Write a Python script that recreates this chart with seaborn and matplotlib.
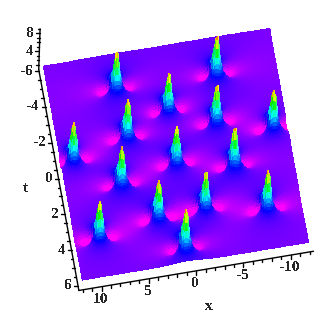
import numpy as np
import matplotlib
matplotlib.use("Agg")
import matplotlib.pyplot as plt
from matplotlib.colors import hsv_to_rgb
import seaborn as sns

# peak positions
peak_x = [4.90, 4.67, 10.64, -0.05, 0.12, 6.16, 2.99, 9.42, -5.64, -4.75, -10.5, -5.79, -2.02, -8.38, 0.78]
peak_t = [-4.21, -1.50, -0.74, -2.59, 0.35, 0.99, 3.17, 3.72, -4.11, -1.51, -0.72, 0.99, 3.06, 3.62, 5.04]

x_ticks = [10, 5, 0, -5, -10]
t_ticks = [-6, -4, -2, 0, 2, 4, 6]
z_ticks = [8, 4]

sns.set_theme(style="white")
plt.rcParams['font.family'] = ['Liberation Serif', 'DejaVu Serif']
plt.rcParams['font.weight'] = 'bold'
plt.rcParams['text.antialiased'] = False


def project(x, t, z):
    # view of the box on the page, in pixels
    px = 176 - 9.46 * np.asarray(x) + 3.25 * np.asarray(t) + 0.15 * (np.asarray(z) - 1)
    py = 154.5 + 1.58 * np.asarray(x) + 17.9 * np.asarray(t) - 4.5 * (np.asarray(z) - 1)
    return px, py


def field(xx, tt):
    z = np.ones_like(xx, dtype=float)
    for x0, t0 in zip(peak_x, peak_t):
        xi = (xx - x0) / 1.35
        tau = (tt - t0) * 2.4
        u = 1 - 4 * (1 + 2j * tau) / (1 + 4 * tau ** 2 + 4 * xi ** 2)
        z += np.abs(u) ** 2 - 1
        # the two dips beside each peak are rounder than the plain formula
        for side in (-1, 1):
            z -= 0.4 * np.exp(-((xx - x0 - side * 1.35) / 0.7) ** 2 - ((tt - t0 - 0.05) / 0.38) ** 2)
    return np.clip(z, 0, None)


fig = plt.figure(figsize=(3.36, 3.30), dpi=100)
ax = fig.add_axes([0, 0, 1, 1])
ax.set_xlim(0, 336)
ax.set_ylim(330, 0)
ax.axis('off')

# surface, back rows first so near rows cover far ones
xg = np.linspace(12, -12, 161)
tg = np.linspace(-6, 6, 161)
xx, tt = np.meshgrid(xg, tg)
zz = field(xx, tt)
xc = (xx[:-1, :-1] + xx[1:, 1:]) / 2
tc = (tt[:-1, :-1] + tt[1:, 1:]) / 2
zc = field(xc, tc)
hue = np.clip((300 - 30 * zc) / 360, 0, 1)
# light from the right: left flanks a bit darker, right flanks washed out
slope = np.gradient(zc, axis=1) / 1.42
sat = 1 - 0.35 * np.clip(-slope / 2, 0, 1)
val = 1 - 0.15 * np.clip(slope / 2, 0, 1)
rgb = hsv_to_rgb(np.dstack([hue, sat, val]))
X, Y = project(xx, tt, zz)
ax.pcolormesh(X, Y, rgb, shading='flat', antialiased=False, linewidth=0, rasterized=False)

# axes lines
xa, ya = project([12.4, -12.4], [6.25, 6.25], [0, 0])
sns.lineplot(x=xa, y=ya, sort=False, estimator=None, color='black', lw=1, ax=ax)
xa, ya = project([12.4, 12.4], [-6.1, 6.25], [0, 0])
sns.lineplot(x=xa, y=ya, sort=False, estimator=None, color='black', lw=1, ax=ax)
xa, ya = project([12.4, 12.4], [-6.1, -6.1], [0, 9])
sns.lineplot(x=xa, y=ya, sort=False, estimator=None, color='black', lw=1, ax=ax)

# x ticks
for v in range(-12, 13):
    px, py = project(v, 6.25, 0)
    ax.plot([px, px], [py, py + (4 if v % 5 == 0 else 2.5)], color='black', lw=1)
for v in x_ticks:
    px, py = project(v, 6.25, 0)
    ax.text(px - 1, py + 6, str(v), ha='center', va='top', fontsize=11)
ax.text(209, 306, 'x', ha='center', va='center', fontsize=11)

# t ticks
for v in np.arange(-6, 6.5, 0.5):
    px, py = project(12.4, v, 0)
    ax.plot([px, px - (4 if v % 2 == 0 else 2.5)], [py, py], color='black', lw=1)
for v in t_ticks:
    px, py = project(12.4, v, 0)
    ax.text(px - 6, py, str(v), ha='right', va='center', fontsize=11)
ax.text(25, 188, 't', ha='center', va='center', fontsize=11)

# z ticks
for v in range(1, 10):
    px, py = project(12.4, -6.1, v)
    ax.plot([px, px - (4 if v % 4 == 0 else 2.5)], [py, py], color='black', lw=1)
for v in z_ticks:
    px, py = project(12.4, -6.1, v)
    ax.text(px - 6, py, str(v), ha='right', va='center', fontsize=11)

fig.savefig('out.png', dpi=100)
